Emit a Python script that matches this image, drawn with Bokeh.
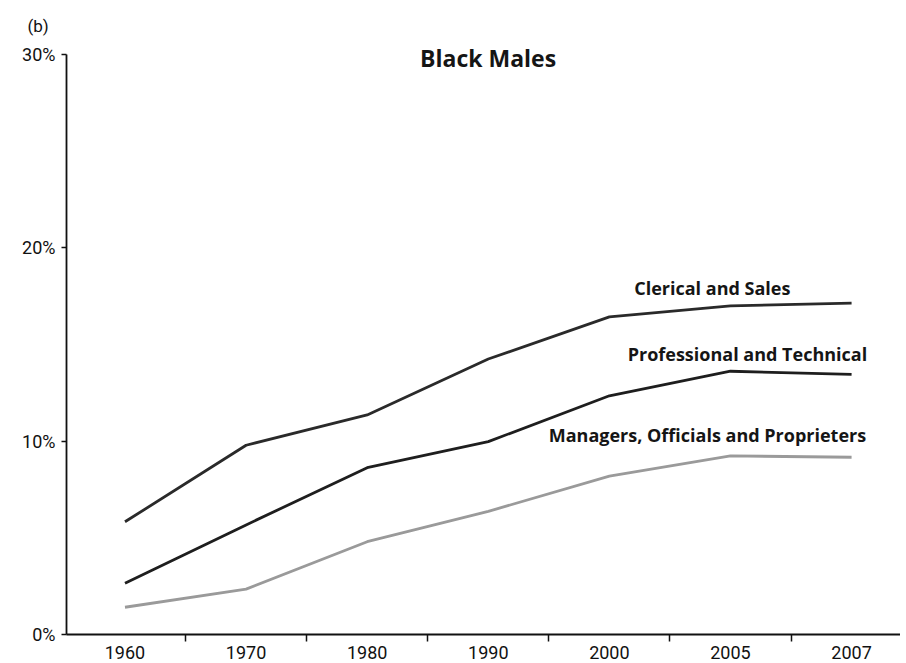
from bokeh.plotting import figure
from bokeh.models import FixedTicker, Label, ColumnDataSource, Range1d
from bokeh.embed import file_html
from bokeh.resources import INLINE

years = ["1960", "1970", "1980", "1990", "2000", "2005", "2007"]
clerical_sales = [5.83, 9.79, 11.36, 14.25, 16.43, 17.0, 17.14]
professional_technical = [2.65, 5.67, 8.63, 9.98, 12.35, 13.62, 13.46]
managers_officials = [1.41, 2.35, 4.8, 6.37, 8.19, 9.24, 9.17]
y_ticks = [0, 10, 20, 30]
y_tick_labels = ["0%", "10%", "20%", "30%"]

TICKFONT = "Roboto, sans-serif"
LFONT = "'Open Sans', 'Noto Sans', sans-serif"

idx = list(range(len(years)))

p = figure(frame_width=834, frame_height=594, output_backend="svg", toolbar_location=None,
           x_range=Range1d(-0.483, 6.404), y_range=Range1d(0, 30.73),
           min_border_left=66, min_border_right=0, min_border_top=40, min_border_bottom=24)
p.outline_line_color = None
p.xgrid.visible = False
p.ygrid.visible = False

p.title.text = "(b)"
p.title.align = "left"
p.title.offset = -39
p.title.text_font = TICKFONT
p.title.text_font_size = "17px"
p.title.text_font_style = "normal"
p.title.text_color = "#111111"
p.title.standoff = 9

src = ColumnDataSource(dict(x=idx, cs=clerical_sales, pt=professional_technical, mo=managers_officials))
p.line("x", "cs", source=src, line_color="#2a2a2a", line_width=2.8)
p.line("x", "pt", source=src, line_color="#1e1e1e", line_width=2.8)
p.line("x", "mo", source=src, line_color="#9a9a9a", line_width=2.8)

# x axis
p.xaxis.ticker = FixedTicker(ticks=idx, minor_ticks=[i + 0.5 for i in idx[:-1]])
p.xaxis.major_label_overrides = {i: y for i, y in zip(idx, years)}
p.xaxis.major_tick_out = 0
p.xaxis.major_tick_in = 0
p.xaxis.minor_tick_out = 7
p.xaxis.minor_tick_in = 0
p.xaxis.axis_line_width = 2
p.xaxis.axis_line_color = "#111111"
p.xaxis.minor_tick_line_color = "#111111"
p.xaxis.minor_tick_line_width = 1.5
p.xaxis.major_label_text_font = TICKFONT
p.xaxis.major_label_text_font_size = "18px"
p.xaxis.major_label_text_color = "#111111"
p.xaxis.major_label_standoff = 4

# y axis
p.yaxis.ticker = FixedTicker(ticks=y_ticks, minor_ticks=[])
p.yaxis.bounds = (0, 30)
p.yaxis.major_label_overrides = {t: l for t, l in zip(y_ticks, y_tick_labels)}
p.yaxis.major_tick_out = 5
p.yaxis.major_tick_in = 0
p.yaxis.minor_tick_out = 0
p.yaxis.axis_line_width = 1.8
p.yaxis.axis_line_color = "#111111"
p.yaxis.major_tick_line_color = "#111111"
p.yaxis.major_tick_line_width = 1.5
p.yaxis.major_label_text_font = TICKFONT
p.yaxis.major_label_text_font_size = "18px"
p.yaxis.major_label_text_color = "#111111"
p.yaxis.major_label_standoff = 6

labels = [
    ("Black Males", 2.998, 29.8, "23px"),
    ("Clerical and Sales", 4.85, 17.9, "18px"),
    ("Professional and Technical", 5.14, 14.49, "18px"),
    ("Managers, Officials and Proprieters", 4.81, 10.31, "18px"),
]
for txt, x, y, fs in labels:
    p.add_layout(Label(x=x, y=y, text=txt, text_font=LFONT, text_font_size=fs,
                       text_font_style="bold", text_align="center", text_baseline="middle",
                       text_color="#151515"))

open("out.html", "w").write(file_html(p, INLINE))
